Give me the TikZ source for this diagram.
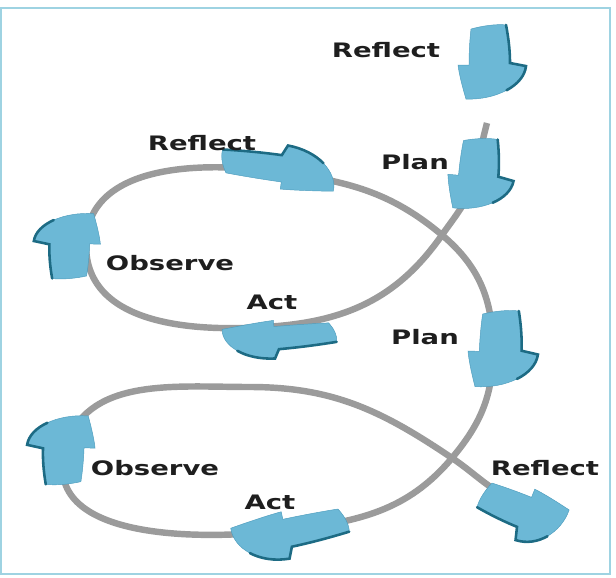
\documentclass[tikz,border=0pt]{standalone}
\usepackage{fontspec}
\setsansfont{DejaVu Sans}
\usetikzlibrary{calc}
\definecolor{arrowFill}{HTML}{6CB8D6}
\definecolor{arrowEdge}{HTML}{1D6B84}
\definecolor{arrowRim}{HTML}{4E9DBE}
\definecolor{pathGray}{HTML}{9B9B9B}
\definecolor{frameBlue}{HTML}{9ED3E2}
\definecolor{textBlack}{HTML}{1E1E1E}
\newcommand{\stageText}[1]{\scalebox{1.38}[1]{#1}}
\newcommand{\stageArrow}[5]{%
	\begin{scope}[shift={(#1,#2)}, rotate=#3, xscale=#4, yscale=#5]
		\fill[arrowFill, draw=arrowRim, line width=0.4pt]
			(-37,16) .. controls (-22,19) and (-10,20) .. (0,20) -- (3,36)
			.. controls (22,34) and (36,6) .. (35,-24)
			.. controls (22,-28) and (10,-31) .. (2,-32) -- (2,-21)
			.. controls (-12,-21) and (-25,-20) .. (-33,-19)
			.. controls (-36,-8) and (-38,6) .. (-37,16) -- cycle;
		\draw[arrowEdge, line width=2.2pt, line cap=round]
			(-37,16) .. controls (-22,19) and (-10,20) .. (0,20) -- (3,36)
			.. controls (12.5,35) and (20.75,27.5) .. (26.5,16.5);
	\end{scope}}

\begin{document}
\begin{tikzpicture}[x=0.03cm, y=0.03cm,
	spiral/.style={pathGray, line width=5.5pt},
	stage/.style={font=\sffamily\bfseries\fontsize{17}{20}\selectfont, text=textBlack, inner sep=0pt}]
	\useasboundingbox (0,0) rectangle (616,-577);
	\draw[frameBlue, line width=1pt] (1,-8) rectangle (610,-574);

	\coordinate (start)  at (487,-123);
	\coordinate (planA)  at (474,-178);
	\coordinate (crossA) at (442,-235);
	\coordinate (actA)   at (278,-326);
	\coordinate (obsA)   at (86,-245);
	\coordinate (refA)   at (280,-172);
	\coordinate (planB)  at (493,-350);
	\coordinate (crossB) at (452,-458);
	\coordinate (actB)   at (289,-530);
	\coordinate (obsB)   at (65,-450);
	\coordinate (topB)   at (250,-387);
	\coordinate (finish) at (495,-490);

	% the cycle path
	\draw[spiral] (start) to[out=-105, in=75] (planA) to[out=-105, in=55] (crossA)
		to[out=-125, in=5] (actA) to[out=185, in=-90] (obsA) to[out=90, in=172] (refA)
		to[out=-8, in=140] (crossA) to[out=-40, in=90] (planB) to[out=-90, in=50] (crossB)
		to[out=-130, in=7] (actB) to[out=187, in=-105] (obsB) to[out=75, in=180] (topB)
		to[out=0, in=146] (crossB) to[out=-34, in=146] (finish);

	\foreach \ax/\ay/\ang/\len/\wid in {490/-63/-90/1.03/1.0, 479/-175/-95/1.0/0.97, 280/-168/-8/1.6/0.65, 69/-245/88/0.92/0.98, 278/-338/185/1.57/0.56, 501/-350/-92/1.07/1.03, 289/-533/192/1.6/0.7, 63/-449/88/0.97/1.0, 523/-512/-22/1.2/-0.8} {
		\stageArrow{\ax}{\ay}{\ang}{\len}{\wid}
	}

	\foreach \name/\px/\py/\word in {reflectTop/386/-50/Reflect, reflectA/202/-143/Reflect, planTextA/415/-162/Plan, observeA/170/-263/Observe, actTextA/272/-302/Act, planTextB/425/-337/Plan, observeB/155/-468/Observe, actTextB/270/-502/Act, reflectB/545/-468/Reflect} {
		\node[stage] (\name) at (\px,\py) {\stageText{\word}};
	}
\end{tikzpicture}
\end{document}
